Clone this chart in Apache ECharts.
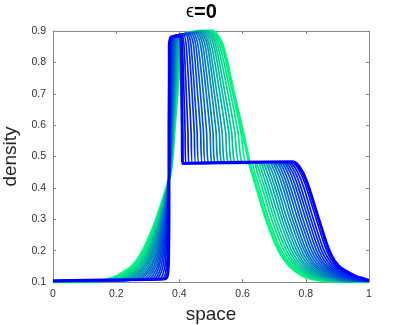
<!DOCTYPE html>
<html><head><meta charset="utf-8">
<script src="https://cdn.jsdelivr.net/npm/echarts@6/dist/echarts.min.js"></script>
<style>html,body{margin:0;padding:0;background:#fff}#c{width:407px;height:325px}</style>
</head><body><div id="c"></div>
<script>
// ---- data (21 snapshots, green = first, blue = last) ----
const xTicks = [0, 0.2, 0.4, 0.6, 0.8, 1];
const yTicks = [0.1, 0.2, 0.3, 0.4, 0.5, 0.6, 0.7, 0.8, 0.9];
const baseY = [.100,.100,.100,.101,.101,.101,.101,.101,.102,.102,.102,.102,.102,.103,.103,.103,.103,.103,.104,.104,.104];
const footX = [.120,.129,.138,.147,.156,.165,.174,.183,.192,.201,.210,.219,.228,.237,.246,.255,.264,.273,.282,.291,.300];
const footY = [.101,.101,.102,.102,.102,.103,.103,.103,.104,.104,.104,.105,.105,.106,.106,.106,.107,.107,.107,.108,.108];
const levelsLeft = [0.11, 0.12, 0.15, 0.2, 0.3, 0.45, 0.6, 0.75, 0.85];
const leftX = [
[.180,.205,.250,.285,.327,.372,.385,.397,.405],
[.189,.213,.256,.289,.329,.372,.384,.396,.403],
[.198,.221,.262,.293,.331,.372,.383,.394,.401],
[.206,.229,.267,.297,.333,.371,.382,.393,.399],
[.215,.236,.273,.301,.335,.371,.381,.391,.398],
[.224,.244,.279,.305,.337,.371,.381,.390,.396],
[.233,.252,.285,.309,.339,.370,.380,.388,.394],
[.241,.260,.290,.313,.341,.370,.379,.387,.392],
[.250,.268,.296,.317,.343,.370,.378,.385,.390],
[.259,.276,.302,.321,.345,.370,.377,.384,.388],
[.268,.284,.308,.326,.347,.370,.376,.383,.387],
[.276,.291,.313,.330,.349,.369,.375,.381,.385],
[.285,.299,.319,.334,.351,.369,.374,.380,.383],
[.294,.307,.325,.338,.353,.369,.373,.378,.381],
[.303,.315,.331,.342,.355,.369,.373,.377,.379],
[.311,.323,.336,.346,.357,.368,.372,.375,.377],
[.320,.331,.342,.350,.359,.368,.371,.374,.375],
[.329,.338,.348,.354,.361,.368,.370,.372,.373],
[.338,.346,.354,.358,.363,.367,.369,.371,.372],
[.346,.354,.359,.362,.365,.367,.368,.369,.370],
[.355,.362,.365,.366,.367,.367,.367,.368,.368]];
const topLeftX = [.416,.414,.412,.410,.408,.406,.403,.401,.399,.397,.395,.393,.391,.389,.387,.385,.382,.380,.378,.376,.374];
const topLeftY = [.889,.888,.888,.888,.887,.887,.886,.886,.886,.885,.885,.885,.884,.884,.884,.883,.883,.882,.882,.881,.881];
const peakX = [.500,.497,.493,.489,.485,.480,.475,.470,.465,.460,.455,.449,.443,.437,.431,.425,.419,.413,.407,.404,.403];
const peakY = [.903,.902,.902,.901,.900,.900,.899,.898,.897,.896,.895,.894,.893,.892,.891,.890,.889,.888,.887,.886,.884];
const dropLevels = [0.86, 0.72, 0.58];
const dropX = [
[.535,.568,.600],[.531,.565,.594],[.525,.558,.585],[.519,.550,.575],[.513,.541,.565],
[.507,.533,.556],[.500,.525,.546],[.493,.516,.535],[.487,.508,.526],[.480,.500,.516],
[.473,.491,.506],[.466,.483,.497],[.458,.474,.486],[.451,.465,.476],[.444,.456,.467],
[.436,.447,.456],[.429,.439,.447],[.421,.430,.437],[.414,.421,.427],[.409,.414,.418],
[.405,.407,.409]];
const plateauY = 0.478;
const plateauEndY = 0.483;
const dropEndX = [.622,.611,.601,.590,.579,.569,.558,.547,.537,.526,.515,.505,.494,.483,.473,.462,.452,.441,.430,.420,.410];
const kneeX = [.622,.629,.637,.644,.652,.659,.666,.674,.681,.689,.696,.703,.711,.718,.726,.733,.740,.748,.755,.763,.770];
const levelsRight = [0.45, 0.4, 0.3, 0.2, 0.15, 0.12, 0.11];
const rightX = [
[.630,.645,.675,.715,.750,.790,.820],
[.638,.653,.683,.723,.758,.798,.828],
[.646,.662,.692,.731,.766,.807,.837],
[.654,.670,.700,.739,.773,.815,.845],
[.662,.678,.708,.747,.781,.823,.853],
[.670,.686,.717,.755,.789,.831,.861],
[.678,.695,.725,.763,.797,.840,.870],
[.686,.703,.733,.771,.804,.848,.878],
[.694,.711,.741,.779,.812,.856,.886],
[.702,.719,.750,.787,.820,.864,.894],
[.710,.728,.758,.795,.828,.873,.903],
[.718,.736,.766,.802,.835,.881,.911],
[.726,.744,.775,.810,.843,.889,.919],
[.734,.752,.783,.818,.851,.897,.927],
[.742,.761,.791,.826,.859,.906,.936],
[.750,.769,.800,.834,.866,.914,.944],
[.758,.777,.808,.842,.874,.922,.952],
[.766,.785,.816,.850,.882,.930,.960],
[.774,.794,.824,.858,.890,.939,.969],
[.782,.802,.833,.866,.897,.947,.977],
[.790,.810,.841,.874,.905,.955,.985]];
const tailX = [.880,.886,.891,.897,.902,.908,.913,.919,.924,.930,.935,.941,.946,.952,.957,.963,.968,.974,.979,.985,.993];
const tailY = [.102,.102,.102,.103,.103,.103,.103,.104,.104,.104,.104,.105,.105,.105,.105,.106,.106,.106,.107,.107,.107];
const endY = [.100,.100,.101,.101,.101,.102,.102,.102,.102,.103,.103,.103,.104,.104,.104,.105,.105,.105,.105,.106,.106];

// ---- build ----
const N = baseY.length;
function curve(i){
  const p = [[0, baseY[i]], [footX[i], footY[i]]];
  levelsLeft.forEach((lv,k)=>p.push([leftX[i][k], lv]));
  p.push([topLeftX[i], topLeftY[i]]);
  p.push([peakX[i], peakY[i]]);
  dropLevels.forEach((lv,k)=>p.push([dropX[i][k], lv]));
  p.push([dropEndX[i], plateauY]);
  if (kneeX[i] - dropEndX[i] > 0.05) p.push([kneeX[i] - 0.015, plateauEndY]);
  if (kneeX[i] > dropEndX[i]) p.push([kneeX[i], plateauY]);
  levelsRight.forEach((lv,k)=>p.push([rightX[i][k], lv]));
  p.push([tailX[i], tailY[i]]);
  p.push([1, endY[i]]);
  return p;
}
function col(i){
  const f = i/(N-1);
  const g = Math.round(250*(1-f)), b = Math.round(125+130*f);
  return 'rgb(0,'+g+','+b+')';
}
const series = [];
for (let i=0;i<N;i++){
  const edge = (i===0||i===N-1);
  series.push({type:'line', data:curve(i), showSymbol:false, symbol:'none', smooth:0.25,
    silent:true, xAxisIndex:0, yAxisIndex:0,
    lineStyle:{color:col(i), width: edge?3:1.7}});
}
const FONT = '"Liberation Sans", Arial, Helvetica, sans-serif';
const axisCol = '#8a8a8a';
const chart = echarts.init(document.getElementById('c'), null, {renderer:'canvas'});
chart.setOption({
  animation:false,
  backgroundColor:'#fff',
  title:{text:'{e|ϵ}{b|=0}', left:186, top:2, padding:0,
    textStyle:{rich:{e:{fontSize:18,fontFamily:FONT,color:'#000',fontWeight:'normal'},
                     b:{fontSize:20,fontFamily:FONT,color:'#000',fontWeight:'bold'}}}},
  grid:{left:53, right:38, top:31, bottom:43, containLabel:false, outerBoundsMode:'none'},
  xAxis:[{type:'value', min:xTicks[0], max:xTicks[xTicks.length-1], interval:0.2, position:'bottom',
      axisLine:{show:true,onZero:false,lineStyle:{color:axisCol,width:1}},
      axisTick:{show:true,inside:true,length:3,lineStyle:{color:axisCol}},
      splitLine:{show:false},
      axisLabel:{color:'#333',fontSize:10.5,fontFamily:FONT,margin:7,formatter:v=>String(+v.toFixed(1))},
      name:'space', nameLocation:'middle', nameGap:20,
      nameTextStyle:{fontSize:19,fontFamily:FONT,color:'#262626'}},
    {type:'value', min:0, max:1, interval:0.2, position:'top',
      axisLine:{show:true,onZero:false,lineStyle:{color:axisCol,width:1}},
      axisTick:{show:true,inside:true,length:3,lineStyle:{color:axisCol}},
      axisLabel:{show:false}, splitLine:{show:false}}],
  yAxis:[{type:'value', min:yTicks[0], max:yTicks[yTicks.length-1], interval:0.1, position:'left',
      axisLine:{show:true,onZero:false,lineStyle:{color:axisCol,width:1}},
      axisTick:{show:true,inside:true,length:3,lineStyle:{color:axisCol}},
      splitLine:{show:false},
      axisLabel:{color:'#333',fontSize:10.5,fontFamily:FONT,margin:7,formatter:v=>v.toFixed(1)},
      name:'density', nameLocation:'middle', nameGap:26, nameRotate:90,
      nameTextStyle:{fontSize:19,fontFamily:FONT,color:'#262626'}},
    {type:'value', min:0.1, max:0.9, interval:0.1, position:'right',
      axisLine:{show:true,onZero:false,lineStyle:{color:axisCol,width:1}},
      axisTick:{show:true,inside:true,length:3,lineStyle:{color:axisCol}},
      axisLabel:{show:false}, splitLine:{show:false}}],
  series: series
});
</script></body></html>
